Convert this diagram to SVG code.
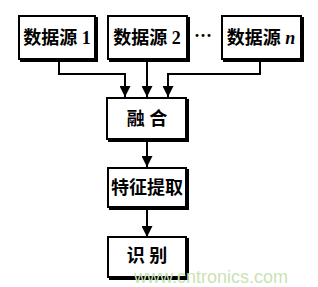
<svg xmlns="http://www.w3.org/2000/svg" width="318" height="287" viewBox="0 0 318 287">
<defs>
<marker id="ah" viewBox="0 0 10 10" refX="10" refY="5" markerWidth="11" markerHeight="11" markerUnits="userSpaceOnUse" orient="auto">
<path d="M0,0 L10,5 L0,10 z" fill="#000"/>
</marker>
</defs>
<style>
.box{fill:#fff;stroke:#000;stroke-width:2}
.sh{fill:none;stroke:#000;stroke-width:2}
.t{font-family:"Liberation Serif","Noto Sans CJK SC",serif;font-size:18px;font-weight:bold;fill:#000;text-anchor:middle}
.c{fill:none;stroke:#000;stroke-width:2}
.wm{font-family:"Liberation Sans",Arial,sans-serif;font-size:18px;fill:#c9e3b4;text-anchor:middle}
</style>
<rect width="318" height="287" fill="#fff"/>
<g id="connectors">
<polyline class="c" points="59,60 59,74 125,74 125,97" marker-end="url(#ah)"/>
<line class="c" x1="147" y1="60" x2="147" y2="97" marker-end="url(#ah)"/>
<polyline class="c" points="260,60 260,74 168,74 168,97" marker-end="url(#ah)"/>
<line class="c" x1="147" y1="140" x2="147" y2="167" marker-end="url(#ah)"/>
<line class="c" x1="147" y1="208" x2="147" y2="237" marker-end="url(#ah)"/>
</g>
<g id="src1">
<rect class="box" x="19" y="16" width="76" height="43"/>
<path class="sh" d="M97,17 V61 H20"/>
<text class="t" x="57" y="44">数据源 1</text>
</g>
<g id="src2">
<rect class="box" x="108" y="16" width="79" height="43"/>
<path class="sh" d="M189,17 V61 H109"/>
<text class="t" x="147" y="44">数据源 2</text>
</g>
<text class="t" x="203" y="42">···</text>
<g id="srcn">
<rect class="box" x="222" y="16" width="79" height="43"/>
<path class="sh" d="M303,17 V61 H223"/>
<text class="t" x="261" y="44">数据源 <tspan font-style="italic">n</tspan></text>
</g>
<g id="fusion">
<rect class="box" x="107" y="98" width="79" height="41"/>
<path class="sh" d="M188,99 V141 H108"/>
<text class="t" x="147" y="125">融  合</text>
</g>
<g id="feature">
<rect class="box" x="108" y="168" width="78" height="39"/>
<path class="sh" d="M188,169 V209 H109"/>
<text class="t" x="147" y="194">特征提取</text>
</g>
<g id="recog">
<rect class="box" x="108" y="237" width="78" height="40"/>
<path class="sh" d="M188,238 V279 H109"/>
<text class="t" x="147" y="262">识  别</text>
</g>
<text class="wm" x="211" y="283">www.cntronics.com</text>
</svg>
